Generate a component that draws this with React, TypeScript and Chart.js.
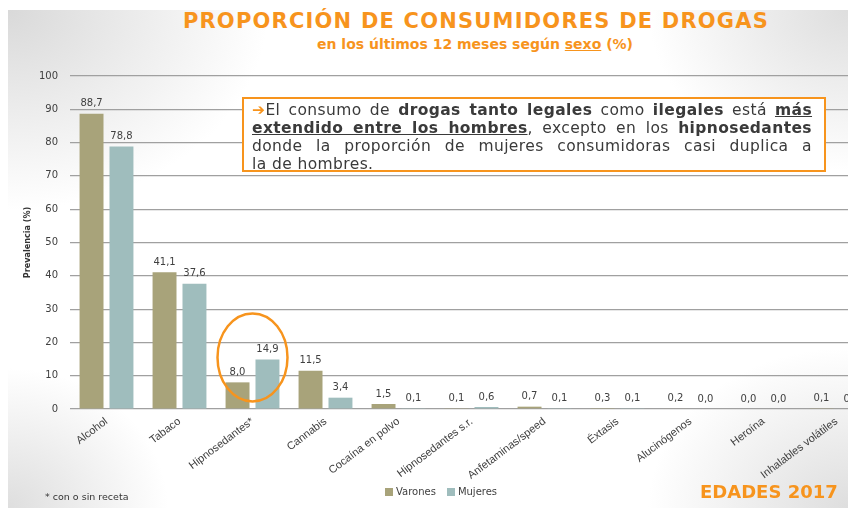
import React, { useEffect, useRef } from "react";
import { Chart, registerables } from "chart.js";

Chart.register(...registerables);

const categories = [
  "Alcohol",
  "Tabaco",
  "Hipnosedantes*",
  "Cannabis",
  "Cocaína en polvo",
  "Hipnosedantes s.r.",
  "Anfetaminas/speed",
  "Éxtasis",
  "Alucinógenos",
  "Heroína",
  "Inhalables volátiles",
];
const varones = [88.7, 41.1, 8.0, 11.5, 1.5, 0.1, 0.7, 0.3, 0.2, 0.0, 0.1];
const mujeres = [78.8, 37.6, 14.9, 3.4, 0.1, 0.6, 0.1, 0.1, 0.0, 0.0, 0.0];
const yTicks = [0, 10, 20, 30, 40, 50, 60, 70, 80, 90, 100];
const seriesNames = ["Varones", "Mujeres"];

const COLOR_V = "#a8a37a";
const COLOR_M = "#9fbdbd";
const ORANGE = "#f7941d";
const TEXT = "#404040";

const valueLabels = {
  id: "valueLabels",
  afterDatasetsDraw(chart: any) {
    const ctx = chart.ctx;
    ctx.save();
    ctx.font = '10px "DejaVu Sans"';
    ctx.fillStyle = TEXT;
    ctx.textAlign = "center";
    ctx.textBaseline = "bottom";
    chart.data.datasets.forEach((ds: any, di: number) => {
      const meta = chart.getDatasetMeta(di);
      meta.data.forEach((bar: any, i: number) => {
        const v = ds.data[i] as number;
        const txt = v.toFixed(1).replace(".", ",");
        ctx.fillText(txt, bar.x, bar.y - 5);
      });
    });
    ctx.restore();
  },
};

const highlightEllipse = {
  id: "highlightEllipse",
  afterDatasetsDraw(chart: any) {
    const ctx = chart.ctx;
    const xs = chart.scales.x;
    const ys = chart.scales.y;
    const cx = xs.getPixelForValue(2);
    const cy = ys.getPixelForValue(15.5);
    ctx.save();
    ctx.strokeStyle = ORANGE;
    ctx.lineWidth = 2.5;
    ctx.beginPath();
    ctx.ellipse(cx, cy, 35, 44, 0, 0, Math.PI * 2);
    ctx.stroke();
    ctx.restore();
  },
};

function App() {
  const ref = useRef<HTMLCanvasElement | null>(null);

  useEffect(() => {
    if (!ref.current) return;
    const chart = new Chart(ref.current, {
      type: "bar",
      data: {
        labels: categories,
        datasets: [
          {
            label: seriesNames[0],
            data: varones,
            backgroundColor: COLOR_V,
            categoryPercentage: 0.82,
            barPercentage: 0.8,
          },
          {
            label: seriesNames[1],
            data: mujeres,
            backgroundColor: COLOR_M,
            categoryPercentage: 0.82,
            barPercentage: 0.8,
          },
        ],
      },
      options: {
        animation: false,
        responsive: false,
        maintainAspectRatio: false,
        layout: { padding: { top: 76, bottom: 10, left: 0, right: 7 } },
        plugins: {
          legend: { display: false },
          tooltip: { enabled: false },
          title: { display: false },
        },
        scales: {
          x: {
            grid: { display: false, drawTicks: false },
            border: { display: false },
            ticks: {
              autoSkip: false,
              minRotation: 37,
              maxRotation: 37,
              color: TEXT,
              padding: 6,
              font: { family: "'Liberation Sans', Arial, sans-serif", size: 11 },
            },
            afterFit: (s: any) => {
              s.height = 95;
            },
          },
          y: {
            min: 0,
            max: 100,
            afterBuildTicks: (s: any) => {
              s.ticks = yTicks.map((v) => ({ value: v }));
            },
            ticks: {
              color: TEXT,
              padding: 12,
              font: { family: "DejaVu Sans", size: 10 },
            },
            grid: { color: "#a0a0a0", lineWidth: 1.2, drawTicks: false },
            border: { display: false },
            title: {
              display: true,
              text: "Prevalencia (%)",
              color: "#333333",
              font: { family: "'DejaVu Sans Condensed', 'Liberation Sans', sans-serif", size: 9, weight: "bold" },
              padding: { top: 22, bottom: 0 },
            },
            afterFit: (s: any) => {
              s.width = 70;
            },
          },
        },
      },
      plugins: [valueLabels, highlightEllipse],
    });
    return () => chart.destroy();
  }, []);

  const bold = { fontWeight: "bold" as const };
  const ul = { fontWeight: "bold" as const, textDecoration: "underline" };
  const lineStyle: React.CSSProperties = {
    textAlign: "justify",
    textAlignLast: "justify" as any,
    whiteSpace: "nowrap",
  };

  return (
    <div
      style={{
        position: "fixed",
        left: 0,
        top: 0,
        width: 848,
        height: 514,
        overflow: "hidden",
        background: "#ffffff",
      }}
    >
      <div
        style={{
          position: "absolute",
          left: 8,
          top: 10,
          right: 0,
          bottom: 6,
          background:
            "radial-gradient(ellipse 260px 200px at 0% 0%, #d9d9d9 0%, rgba(255,255,255,0) 100%), radial-gradient(ellipse 200px 160px at 100% 0%, #dedede 0%, rgba(255,255,255,0) 100%), radial-gradient(ellipse 160px 140px at 0% 100%, #dedede 0%, rgba(255,255,255,0) 100%), radial-gradient(ellipse 200px 160px at 100% 100%, #dedede 0%, rgba(255,255,255,0) 100%), #ffffff",
        }}
      />
      <div
        style={{
          position: "absolute",
          left: 0,
          width: 952,
          top: 9,
          textAlign: "center",
          fontFamily: '"DejaVu Sans", sans-serif',
          fontWeight: "bold",
          fontSize: 21,
          letterSpacing: 1.2,
          lineHeight: "24px",
          color: ORANGE,
          whiteSpace: "nowrap",
        }}
      >
        PROPORCIÓN DE CONSUMIDORES DE DROGAS
      </div>
      <div
        style={{
          position: "absolute",
          left: 0,
          width: 950,
          top: 35,
          textAlign: "center",
          fontFamily: '"DejaVu Sans", sans-serif',
          fontWeight: "bold",
          fontSize: 14,
          lineHeight: "18px",
          color: ORANGE,
          whiteSpace: "nowrap",
        }}
      >
        en los últimos 12 meses según <span style={{ textDecoration: "underline" }}>sexo</span> (%)
      </div>
      <canvas
        ref={ref}
        width={880}
        height={514}
        style={{ position: "absolute", left: 0, top: 0, width: 880, height: 514 }}
      />
      <div
        style={{
          position: "absolute",
          left: 242,
          top: 97,
          width: 584,
          height: 75,
          boxSizing: "border-box",
          border: `2px solid ${ORANGE}`,
          background: "#ffffff",
          padding: "2px 12px 0 8px",
          fontFamily: '"DejaVu Sans", sans-serif',
          fontSize: 15.5,
          letterSpacing: 0.4,
          lineHeight: "18px",
          color: "#3a3a3a",
        }}
      >
        <div style={lineStyle}>
          <span style={{ color: ORANGE, ...bold }}>➔</span>El consumo de{" "}
          <span style={bold}>drogas tanto legales</span> como <span style={bold}>ilegales</span> está{" "}
          <span style={ul}>más</span>
        </div>
        <div style={lineStyle}>
          <span style={ul}>extendido entre los hombres</span>, excepto en los{" "}
          <span style={bold}>hipnosedantes</span>
        </div>
        <div style={lineStyle}>donde la proporción de mujeres consumidoras casi duplica a</div>
        <div style={{ whiteSpace: "nowrap" }}>la de hombres.</div>
      </div>
      <div
        style={{
          position: "absolute",
          left: 45,
          top: 490,
          fontFamily: '"DejaVu Sans", sans-serif',
          fontSize: 9.5,
          lineHeight: "14px",
          color: "#333333",
          whiteSpace: "nowrap",
        }}
      >
        * con o sin receta
      </div>
      <div
        style={{
          position: "absolute",
          left: 385,
          top: 485,
          fontFamily: '"DejaVu Sans", sans-serif',
          fontSize: 10,
          lineHeight: "14px",
          color: TEXT,
          whiteSpace: "nowrap",
          display: "flex",
          alignItems: "center",
        }}
      >
        <span style={{ display: "inline-block", width: 8, height: 8, background: COLOR_V, marginRight: 3 }} />
        <span style={{ marginRight: 11 }}>{seriesNames[0]}</span>
        <span style={{ display: "inline-block", width: 8, height: 8, background: COLOR_M, marginRight: 3 }} />
        <span>{seriesNames[1]}</span>
      </div>
      <div
        style={{
          position: "absolute",
          left: 700,
          top: 481,
          fontFamily: '"DejaVu Sans", sans-serif',
          fontWeight: "bold",
          fontSize: 18,
          lineHeight: "22px",
          color: ORANGE,
          whiteSpace: "nowrap",
        }}
      >
        EDADES 2017
      </div>
    </div>
  );
}

export default App;
